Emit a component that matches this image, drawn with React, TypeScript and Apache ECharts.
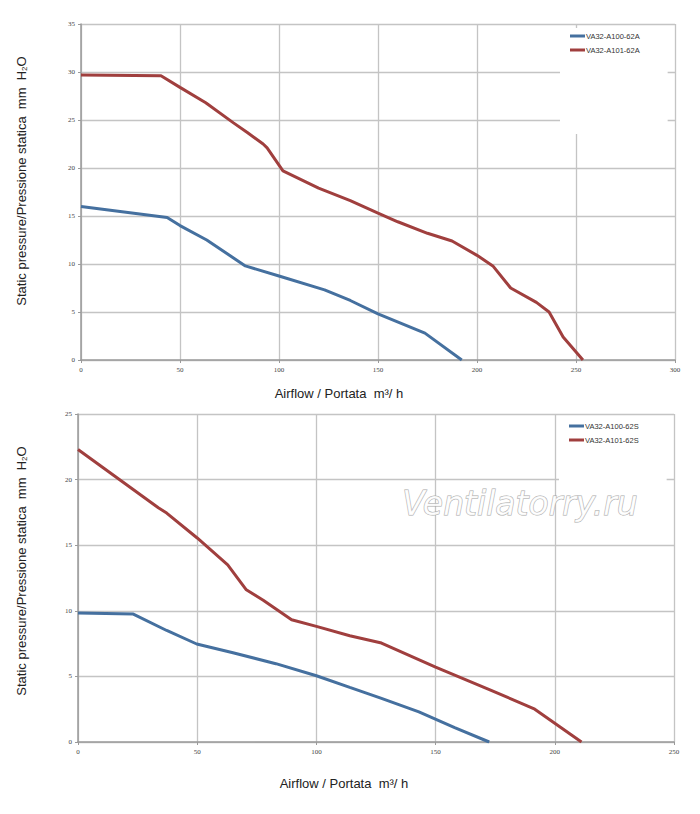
import React, { useEffect, useRef } from "react";
import * as echarts from "echarts";

// ---- Data (top chart: VA32-A...-62A) ----
const topBlueFlow = [0, 43.5, 50, 63.5, 83, 100, 123, 136, 150, 173.7, 192.3];
const topBluePressure = [16, 14.85, 14.0, 12.5, 9.8, 8.75, 7.3, 6.2, 4.8, 2.8, 0];
const topRedFlow = [0, 40.4, 50, 63, 77, 84, 92, 94, 102, 120, 136, 150, 160, 175, 187.4, 200, 208, 217, 230, 236.4, 243.5, 253.5];
const topRedPressure = [29.7, 29.6, 28.4, 26.8, 24.7, 23.7, 22.5, 22.1, 19.7, 17.9, 16.6, 15.3, 14.4, 13.2, 12.4, 10.9, 9.8, 7.5, 6.0, 5.0, 2.4, 0];

// ---- Data (bottom chart: VA32-A...-62S) ----
const botBlueFlow = [0, 23.2, 37.2, 49.8, 65, 83, 100, 114, 127, 143, 158, 172.5];
const botBluePressure = [9.83, 9.75, 8.5, 7.47, 6.8, 5.97, 5.05, 4.16, 3.35, 2.3, 1.1, 0];
const botRedFlow = [0, 33.7, 37.2, 50, 62.8, 70.6, 77.7, 89.6, 100, 114, 127.3, 150, 172.8, 191.6, 211.2];
const botRedPressure = [22.3, 17.85, 17.45, 15.55, 13.5, 11.6, 10.8, 9.32, 8.81, 8.1, 7.54, 5.7, 3.98, 2.5, 0];

const topNames = ["VA32-A100-62A", "VA32-A101-62A"];
const botNames = ["VA32-A100-62S", "VA32-A101-62S"];

const topXAxis = { min: 0, max: 300, interval: 50 };
const topYAxis = { min: 0, max: 35, interval: 5 };
const botXAxis = { min: 0, max: 250, interval: 50 };
const botYAxis = { min: 0, max: 25, interval: 5 };

const yTitle = "Static pressure/Pressione statica  mm  H{sub|2}O";
const xTitle = "Airflow / Portata  m³/ h";
const watermark = "Ventilatorry.ru";

const BLUE = "#45709f";
const RED = "#a03f3e";

const pairs = (xs: number[], ys: number[]) => xs.map((x, i) => [x, ys[i]]);

const axisCommon = {
  axisLine: { show: true, lineStyle: { color: "#9a9a9a", width: 1.5 } },
  axisTick: { show: true, length: 3, lineStyle: { color: "#9a9a9a" } },
  splitLine: { show: true, lineStyle: { color: "#c4c4c4", width: 1.3 } },
  axisLabel: { fontSize: 7, color: "#444", fontFamily: "Liberation Serif", margin: 6 },
};

export default function App() {
  const ref = useRef<HTMLDivElement>(null);
  useEffect(() => {
    if (!ref.current) return;
    const chart = echarts.init(ref.current, null, { renderer: "svg" });
    const legendCommon = {
      orient: "vertical" as const,
      backgroundColor: "#ffffff",
      itemWidth: 15,
      itemHeight: 3,
      itemGap: 6,
      icon: "rect",
      textStyle: { fontSize: 7.5, color: "#333", fontFamily: "Liberation Sans", padding: [0, 0, 0, -4] },
    };
    const titleStyle = {
      fontSize: 13,
      fill: "#222",
      fontFamily: "Liberation Sans",
    };
    chart.setOption({
      animation: false,
      grid: [
        { left: 81, top: 24, width: 594, height: 336 },
        { left: 78, top: 414, width: 596, height: 328 },
      ],
      xAxis: [
        { type: "value", gridIndex: 0, ...topXAxis, ...axisCommon },
        { type: "value", gridIndex: 1, ...botXAxis, ...axisCommon },
      ],
      yAxis: [
        { type: "value", gridIndex: 0, ...topYAxis, ...axisCommon },
        { type: "value", gridIndex: 1, ...botYAxis, ...axisCommon },
      ],
      legend: [
        {
          ...legendCommon,
          data: topNames,
          left: 560,
          top: 28,
          padding: [4, 28, 80, 10],
        },
        {
          ...legendCommon,
          data: botNames,
          left: 559,
          top: 418,
          padding: [4, 28, 70, 10],
        },
      ],
      series: [
        {
          name: topNames[0], type: "line", xAxisIndex: 0, yAxisIndex: 0,
          data: pairs(topBlueFlow, topBluePressure), showSymbol: false,
          lineStyle: { color: BLUE, width: 3 }, itemStyle: { color: BLUE },
        },
        {
          name: topNames[1], type: "line", xAxisIndex: 0, yAxisIndex: 0,
          data: pairs(topRedFlow, topRedPressure), showSymbol: false,
          lineStyle: { color: RED, width: 3 }, itemStyle: { color: RED },
        },
        {
          name: botNames[0], type: "line", xAxisIndex: 1, yAxisIndex: 1,
          data: pairs(botBlueFlow, botBluePressure), showSymbol: false,
          lineStyle: { color: BLUE, width: 3 }, itemStyle: { color: BLUE },
        },
        {
          name: botNames[1], type: "line", xAxisIndex: 1, yAxisIndex: 1,
          data: pairs(botRedFlow, botRedPressure), showSymbol: false,
          lineStyle: { color: RED, width: 3 }, itemStyle: { color: RED },
        },
      ],
      graphic: [
        {
          type: "text", x: 21, y: 181, rotation: Math.PI / 2,
          style: {
            ...titleStyle, text: yTitle, align: "center", verticalAlign: "middle",
            rich: { sub: { fontSize: 8, fontFamily: "Liberation Sans", fill: "#222", padding: [6, 0, 0, 0] } },
          },
        },
        {
          type: "text", x: 21, y: 571, rotation: Math.PI / 2,
          style: {
            ...titleStyle, text: yTitle, align: "center", verticalAlign: "middle",
            rich: { sub: { fontSize: 8, fontFamily: "Liberation Sans", fill: "#222", padding: [6, 0, 0, 0] } },
          },
        },
        {
          type: "text", x: 339, y: 393,
          style: { ...titleStyle, text: xTitle, align: "center", verticalAlign: "middle" },
        },
        {
          type: "text", x: 344, y: 783,
          style: { ...titleStyle, text: xTitle, align: "center", verticalAlign: "middle" },
        },
        {
          type: "text", x: 520, y: 503, z: 100,
          style: {
            text: watermark, align: "center", verticalAlign: "middle",
            fontSize: 33, fontStyle: "italic", fontFamily: "DejaVu Sans",
            fill: "rgba(255,255,255,0.85)", stroke: "#a8a8a8", lineWidth: 1,
          },
        },
      ],
    });
    return () => chart.dispose();
  }, []);
  return (
    <div
      ref={ref}
      style={{ position: "fixed", left: 0, top: 0, width: 700, height: 814, background: "#fff" }}
    />
  );
}
